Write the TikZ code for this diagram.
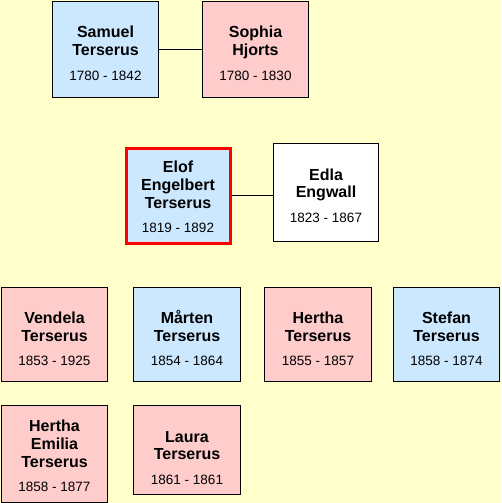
\documentclass[tikz,border=0pt]{standalone}
\usepackage{fontspec}
\setmainfont{Liberation Sans}
\definecolor{bgyellow}{RGB}{255,255,204}
\definecolor{mblue}{RGB}{204,232,255}
\definecolor{fpink}{RGB}{255,204,204}
\newcommand{\pdate}[1]{\fontsize{13.5}{16}\selectfont\mdseries #1}
\newcommand{\lift}[1]{\rule{0pt}{#1}}
\tikzset{
  person/.style={draw=black, line width=1pt, anchor=north west, align=center, inner sep=0pt,
    font=\fontsize{16}{17.7}\selectfont\bfseries},
  box/.style 2 args={minimum width=#1, minimum height=#2},
  male/.style={person, fill=mblue},
  female/.style={person, fill=fpink},
  unknown/.style={person, fill=white},
  focus/.style={draw=red, line width=3pt},
  link/.style={draw=black, line width=1pt}
}
\begin{document}
\begin{tikzpicture}[x=1pt,y=-1pt]
\useasboundingbox (0,0) rectangle (501,503);
\fill[bgyellow] (0,0) rectangle (501,503);
\node[male, box={106pt}{96pt}] (samuel) at (52,1)
  {\lift{19.5pt}Samuel\\Terserus\\[7pt]\pdate{1780 - 1842}};
\node[female, box={106pt}{96pt}] (sophia) at (202,1)
  {\lift{19.5pt}Sophia\\Hjorts\\[7pt]\pdate{1780 - 1830}};
\node[male, focus, box={104pt}{95pt}] (elof) at (124.5,146.5)
  {\lift{14.7pt}Elof\\Engelbert\\Terserus\\[7pt]\pdate{1819 - 1892}};
\node[unknown, box={105pt}{98pt}] (edla) at (273,143)
  {\lift{17.7pt}Edla\\Engwall\\[7pt]\pdate{1823 - 1867}};
\node[female, box={106pt}{94pt}] (vendela) at (1,287)
  {\lift{20.5pt}Vendela\\Terserus\\[7pt]\pdate{1853 - 1925}};
\node[male, box={107pt}{94pt}] (marten) at (133,287)
  {\lift{20.5pt}Mårten\\Terserus\\[7pt]\pdate{1854 - 1864}};
\node[female, box={107pt}{94pt}] (hertha) at (264,287)
  {\lift{20.5pt}Hertha\\Terserus\\[7pt]\pdate{1855 - 1857}};
\node[male, box={106pt}{94pt}] (stefan) at (393,287)
  {\lift{20.5pt}Stefan\\Terserus\\[7pt]\pdate{1858 - 1874}};
\node[female, box={106pt}{97pt}] (herthaemilia) at (1,405)
  {\lift{15.5pt}Hertha\\Emilia\\Terserus\\[7pt]\pdate{1858 - 1877}};
\node[female, box={107pt}{89pt}] (laura) at (133,405)
  {\lift{27pt}Laura\\Terserus\\[7pt]\pdate{1861 - 1861}};
\draw[link] (samuel.east) -- (sophia.west);
\draw[link] (elof.east) -- (elof.east -| edla.west);
\end{tikzpicture}
\end{document}
